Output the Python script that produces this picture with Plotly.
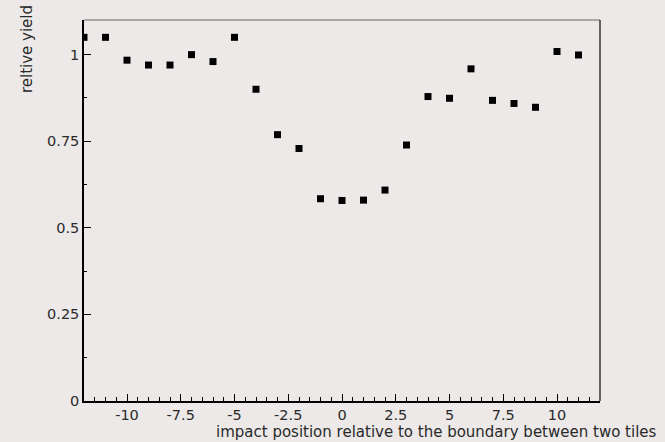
import plotly.graph_objects as go

# impact position (integer steps) and measured relative yield
positions = [-12, -11, -10, -9, -8, -7, -6, -5, -4, -3, -2, -1,
             0, 1, 2, 3, 4, 5, 6, 7, 8, 9, 10, 11]
rel_yield = [1.05, 1.05, 0.984, 0.970, 0.970, 1.0, 0.98, 1.05, 0.90, 0.769, 0.729, 0.584,
             0.579, 0.580, 0.609, 0.739, 0.879, 0.874, 0.959, 0.868, 0.859, 0.848, 1.009, 0.999]

x_ticks = [-10, -7.5, -5, -2.5, 0, 2.5, 5, 7.5, 10]
x_ticktext = ["-10", "-7.5", "-5", "-2.5", "0", "2.5", "5", "7.5", "10"]
y_ticks = [0, 0.25, 0.5, 0.75, 1]
y_ticktext = ["0", "0.25", "0.5", "0.75", "1"]

bg = "#ECE9E8"
tick_font = dict(family="DejaVu Sans", size=14.5, color="#2a2a2a")
title_font = dict(family="DejaVu Sans", size=15, color="#2a2a2a")

fig = go.Figure()
fig.add_trace(go.Scatter(
    x=positions, y=rel_yield, mode="markers",
    marker=dict(symbol="square", size=7, color="black", line=dict(width=0)),
    showlegend=False,
))

fig.update_layout(
    width=665, height=442,
    margin=dict(l=84, r=65, t=20, b=41),
    paper_bgcolor=bg, plot_bgcolor=bg,
    font=tick_font,
    xaxis=dict(
        range=[-12, 12], showgrid=False, zeroline=False,
        showline=True, linecolor="black", linewidth=1.5,
        tickmode="array", tickvals=x_ticks, ticktext=x_ticktext,
        ticks="inside", ticklen=7, tickwidth=1, tickcolor="black",
        minor=dict(tickmode="linear", tick0=0, dtick=0.5, ticks="inside",
                   ticklen=4, tickcolor="black", showgrid=False),
        tickfont=tick_font,
    ),
    yaxis=dict(
        range=[0, 1.1], showgrid=False, zeroline=False,
        showline=True, linecolor="black", linewidth=1.5,
        tickmode="array", tickvals=y_ticks, ticktext=y_ticktext,
        ticks="inside", ticklen=7, tickwidth=1, tickcolor="black",
        minor=dict(tickmode="linear", tick0=0, dtick=0.125, ticks="inside",
                   ticklen=3, tickcolor="black", showgrid=False),
        tickfont=tick_font,
    ),
    shapes=[
        dict(type="line", xref="paper", yref="paper", x0=0, x1=1, y0=1, y1=1,
             line=dict(color="#666666", width=1)),
        dict(type="line", xref="paper", yref="paper", x0=1, x1=1, y0=0, y1=1,
             line=dict(color="#333333", width=1.5)),
    ],
    annotations=[
        dict(text="impact position relative to the boundary between two tiles",
             xref="paper", yref="paper", x=1.115, y=-0.0525,
             xanchor="right", yanchor="top", showarrow=False, font=title_font),
        dict(text="reltive yield", textangle=-90,
             xref="paper", yref="paper", x=-0.110, y=1.045,
             xanchor="center", yanchor="top", showarrow=False, font=title_font),
    ],
)

fig.write_html("out.html")
